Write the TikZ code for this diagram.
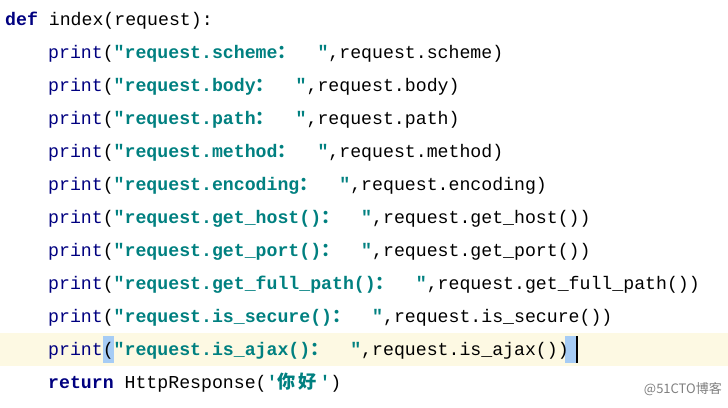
\documentclass[tikz,border=0pt]{standalone}
\usepackage{fontspec}
\setmonofont{Liberation Mono}
\newfontfamily\cjk{Noto Sans CJK SC}
\definecolor{kwblue}{HTML}{000080}
\definecolor{strteal}{HTML}{008080}
\definecolor{curline}{HTML}{FDF9E3}
\definecolor{parenhl}{HTML}{A6CCF5}
\newcommand{\colfw}{\makebox[40pt][l]{\cjk ：}}
\newcommand{\fw}[1]{\makebox[21pt][l]{\cjk #1}}
\newcommand{\kw}[1]{\textcolor{kwblue}{\textbf{#1}}}
\newcommand{\fn}[1]{\textcolor{kwblue}{#1}}
\newcommand{\str}[1]{\textcolor{strteal}{\textbf{#1}}}
\tikzset{
    codeline/.style={anchor=base west, inner sep=0pt, font=\ttfamily\fontsize{18.2}{22}\selectfont},
}
\begin{document}
\begin{tikzpicture}[x=1pt, y=-1pt]
    \useasboundingbox[fill=white] (0, 0) rectangle (728, 407);
    % current line
    \fill[curline] (0, 333) rectangle (728, 366);
    \fill[parenhl] (103, 336) rectangle (114, 363);
    \fill[parenhl] (565, 336) rectangle (576, 363);
    \draw[line width=1.5pt] (577, 336) -- (577, 363);
    % code
    \node[codeline] (l1) at (5, 25) {\kw{def} index(request):};
    \node[codeline] (l2) at (48, 58) {\fn{print}(\str{"request.scheme\colfw"},request.scheme)};
    \node[codeline] (l3) at (48, 91) {\fn{print}(\str{"request.body\colfw"},request.body)};
    \node[codeline] (l4) at (48, 124) {\fn{print}(\str{"request.path\colfw"},request.path)};
    \node[codeline] (l5) at (48, 157) {\fn{print}(\str{"request.method\colfw"},request.method)};
    \node[codeline] (l6) at (48, 190) {\fn{print}(\str{"request.encoding\colfw"},request.encoding)};
    \node[codeline] (l7) at (48, 223) {\fn{print}(\str{"request.get\_host()\colfw"},request.get\_host())};
    \node[codeline] (l8) at (48, 256) {\fn{print}(\str{"request.get\_port()\colfw"},request.get\_port())};
    \node[codeline] (l9) at (48, 289) {\fn{print}(\str{"request.get\_full\_path()\colfw"},request.get\_full\_path())};
    \node[codeline] (l10) at (48, 322) {\fn{print}(\str{"request.is\_secure()\colfw"},request.is\_secure())};
    \node[codeline] (l11) at (48, 355) {\fn{print}(\str{"request.is\_ajax()\colfw"},request.is\_ajax())};
    \node[codeline] (l12) at (48, 388) {\kw{return} HttpResponse(\str{'\fw{你}\fw{好}'})};
    % watermark
    \node[anchor=base east, inner sep=0pt, text=gray, font=\cjk\fontsize{13}{15}\selectfont] (mark) at (722, 393) {@51CTO博客};
\end{tikzpicture}
\end{document}
